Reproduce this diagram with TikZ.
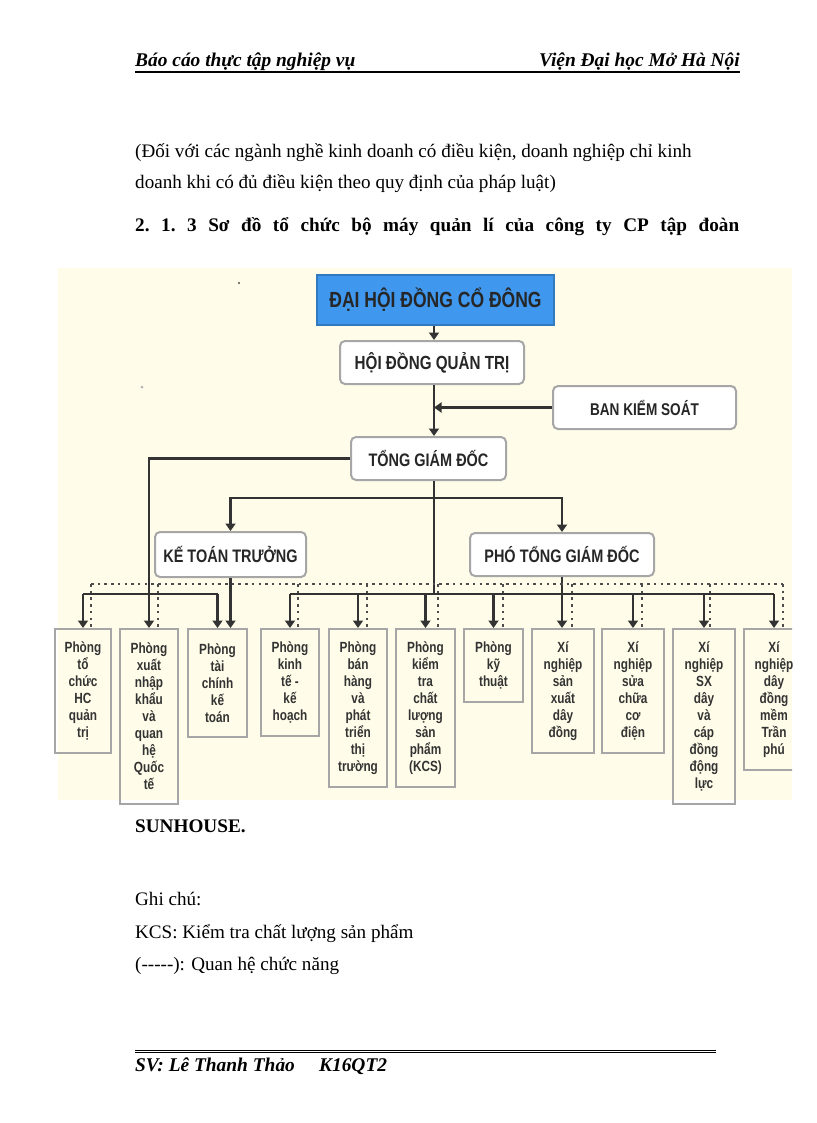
\documentclass[tikz,border=0pt]{standalone}
\usepackage{fontspec}
\setmainfont{Liberation Serif}
\newfontfamily\boxfont[FakeStretch=0.8]{Liberation Sans}
\usepackage{xcolor}
\usetikzlibrary{arrows.meta}
\definecolor{creambg}{HTML}{FFFDE9}
\definecolor{topblue}{HTML}{3F97EE}
\definecolor{linedark}{HTML}{333333}
\tikzset{
  pagetext/.style={anchor=base west,inner sep=0pt,font=\fontsize{19.1}{21}\selectfont},
  boldtext/.style={pagetext,font=\fontsize{19.2}{21}\selectfont\bfseries},
  headtext/.style={inner sep=0pt,font=\fontsize{19.4}{21}\selectfont\bfseries\itshape},
  bossbox/.style={draw=gray!70,line width=2pt,rounded corners=5pt,fill=white,text=black!85,font=\boxfont\bfseries\fontsize{18.1}{20}\selectfont},
  deptbox/.style={draw=gray!70,line width=2pt,anchor=north,align=center,inner sep=0pt,text=black!80,font=\boxfont\bfseries\fontsize{14.75}{17}\selectfont},
  flow/.style={draw=linedark,line width=2.3pt},
  flowarrow/.style={flow,-{Triangle[width=10pt,length=7.5pt]}},
  funcdots/.style={draw=black!70,line width=2.5pt,dash pattern=on 2.5pt off 4.2pt}
}
\begin{document}
\begin{tikzpicture}[x=1pt,y=-1pt]
\useasboundingbox (0,0) rectangle (816,1123);
% page text
\node[headtext,anchor=base west] (headL) at (135,67) {Báo cáo thực tập nghiệp vụ};
\node[headtext,anchor=base east] (headR) at (740,67) {Viện Đại học Mở Hà Nội};
\draw[line width=2pt] (135,72.5)--(740,72.5);
\node[pagetext] (lineA) at (135,158) {(Đối với các ngành nghề kinh doanh có điều kiện, doanh nghiệp chỉ kinh};
\node[pagetext] (lineB) at (135,189) {doanh khi có đủ điều kiện theo quy định của pháp luật)};
\node[boldtext] (lineC) at (135,232) {\frenchspacing\makebox[604pt][s]{2. 1. 3 Sơ đồ tổ chức bộ máy quản lí của công ty CP tập đoàn}};
\node[boldtext] (lineD) at (135,832) {SUNHOUSE.};
\node[pagetext] (noteA) at (135,905) {Ghi chú:};
\node[pagetext] (noteB) at (135,938) {KCS: Kiểm tra chất lượng sản phẩm};
\node[pagetext] (noteC) at (135,970) {(-{}-{}-{}-{}-): Quan hệ chức năng};
\draw[line width=1pt] (135,1050)--(716,1050);
\draw[line width=1pt] (135,1052.5)--(716,1052.5);
\node[headtext,anchor=base west] (foot) at (135,1071) {SV: Lê Thanh Thảo\hspace{1em} K16QT2};
% diagram background
\fill[creambg] (58,268) rectangle (792,800);
\fill[black!70] (239,283) circle(1.2);
\fill[black!30] (142,387) circle(1.5);
% top boxes
\node[bossbox,fill=topblue,draw=topblue!80!black,rounded corners=0pt,minimum width=237pt,minimum height=50pt,font=\boxfont\bfseries\fontsize{21.9}{24}\selectfont] (dhcd) at (435.5,300) {ĐẠI HỘI ĐỒNG CỔ ĐÔNG};
\node[bossbox,minimum width=184pt,minimum height=43pt,font=\boxfont\bfseries\fontsize{19}{20}\selectfont] (hdqt) at (432,362.5) {HỘI ĐỒNG QUẢN TRỊ};
\node[bossbox,minimum width=183pt,minimum height=43pt,font=\boxfont\bfseries\fontsize{17}{20}\selectfont] (bks) at (644.5,407.5) {BAN KIỂM SOÁT};
\node[bossbox,minimum width=155pt,minimum height=43pt] (tgd) at (428.5,458.5) {TỔNG GIÁM ĐỐC};
\node[bossbox,minimum width=151pt,minimum height=45pt] (ktt) at (230.5,554.5) {KẾ TOÁN TRƯỞNG};
\node[bossbox,minimum width=184pt,minimum height=43pt] (ptgd) at (562,554.5) {PHÓ TỔNG GIÁM ĐỐC};
% departments
\begin{scope}
\clip (0,0) rectangle (792,1123);
\foreach \nm/\xx/\wdd/\htt/\txt in {
  b1/83/56/124/{Phòng\\tổ\\chức\\HC\\quản\\trị},
  b2/149/58/175/{Phòng\\xuất\\nhập\\khẩu\\và\\quan\\hệ\\Quốc\\tế},
  b3/217.5/59/108/{Phòng\\tài\\chính\\kế\\toán},
  b4/290/58/107/{Phòng\\kinh\\tế -\\kế\\hoạch},
  b5/358/58/158/{Phòng\\bán\\hàng\\và\\phát\\triển\\thị\\trường},
  b6/425.5/59/158/{Phòng\\kiểm\\tra\\chất\\lượng\\sản\\phẩm\\(KCS)},
  b7/493.5/59/73/{Phòng\\kỹ\\thuật},
  b8/563/62/124/{Xí\\nghiệp\\sản\\xuất\\dây\\đồng},
  b9/633/62/124/{Xí\\nghiệp\\sửa\\chữa\\cơ\\điện},
  b10/704/62/175/{Xí\\nghiệp\\SX\\dây\\và\\cáp\\đồng\\động\\lực},
  b11/774/60/141/{Xí\\nghiệp\\dây\\đồng\\mềm\\Trần\\phú}}
  \node[deptbox,minimum width=\wdd pt,minimum height=\htt pt] (\nm) at (\xx,628) {\txt};
\end{scope}
% connectors
\coordinate (spine) at (434,0);
\coordinate (split) at (434,498);
\coordinate (busA) at (0,594);
\coordinate (dotA) at (0,584);
\draw[flowarrow] (spine |- dhcd.south)--(spine |- hdqt.north);
\draw[flowarrow] (spine |- hdqt.south)--(spine |- tgd.north);
\draw[flowarrow] (bks.west)--(spine |- bks.west);
\draw[flow] (spine |- tgd.south)--(spine |- busA);
\draw[flowarrow] (tgd.west) -| (b2.north);
\draw[flowarrow] (split) -| (ktt.north);
\draw[flowarrow] (split) -| (ptgd.north);
\draw[flowarrow] (ktt.south)--(ktt.south |- b3.north);
\draw[flowarrow] (ptgd.south)--(ptgd.south |- b8.north);
\draw[flow] (b1.north |- busA)--(b3.north |- busA);
\draw[flow] (b4.north |- busA)--(b11.north |- busA);
\foreach \nm in {b1,b3,b4,b5,b6,b7,b9,b10,b11}
  \draw[flowarrow] (\nm.north |- busA)--(\nm.north);
% dotted lines
\draw[funcdots] ([xshift=8pt]b1.north |- dotA)--([xshift=9pt]b11.north |- dotA);
\foreach \nm/\off in {b1/8,b2/9,b4/8,b5/9,b6/12.5,b7/9.5,b8/9,b9/9,b10/6,b11/9}
  \draw[funcdots] ([xshift=\off pt]\nm.north |- dotA)--([xshift=\off pt]\nm.north);
\end{tikzpicture}
\end{document}
